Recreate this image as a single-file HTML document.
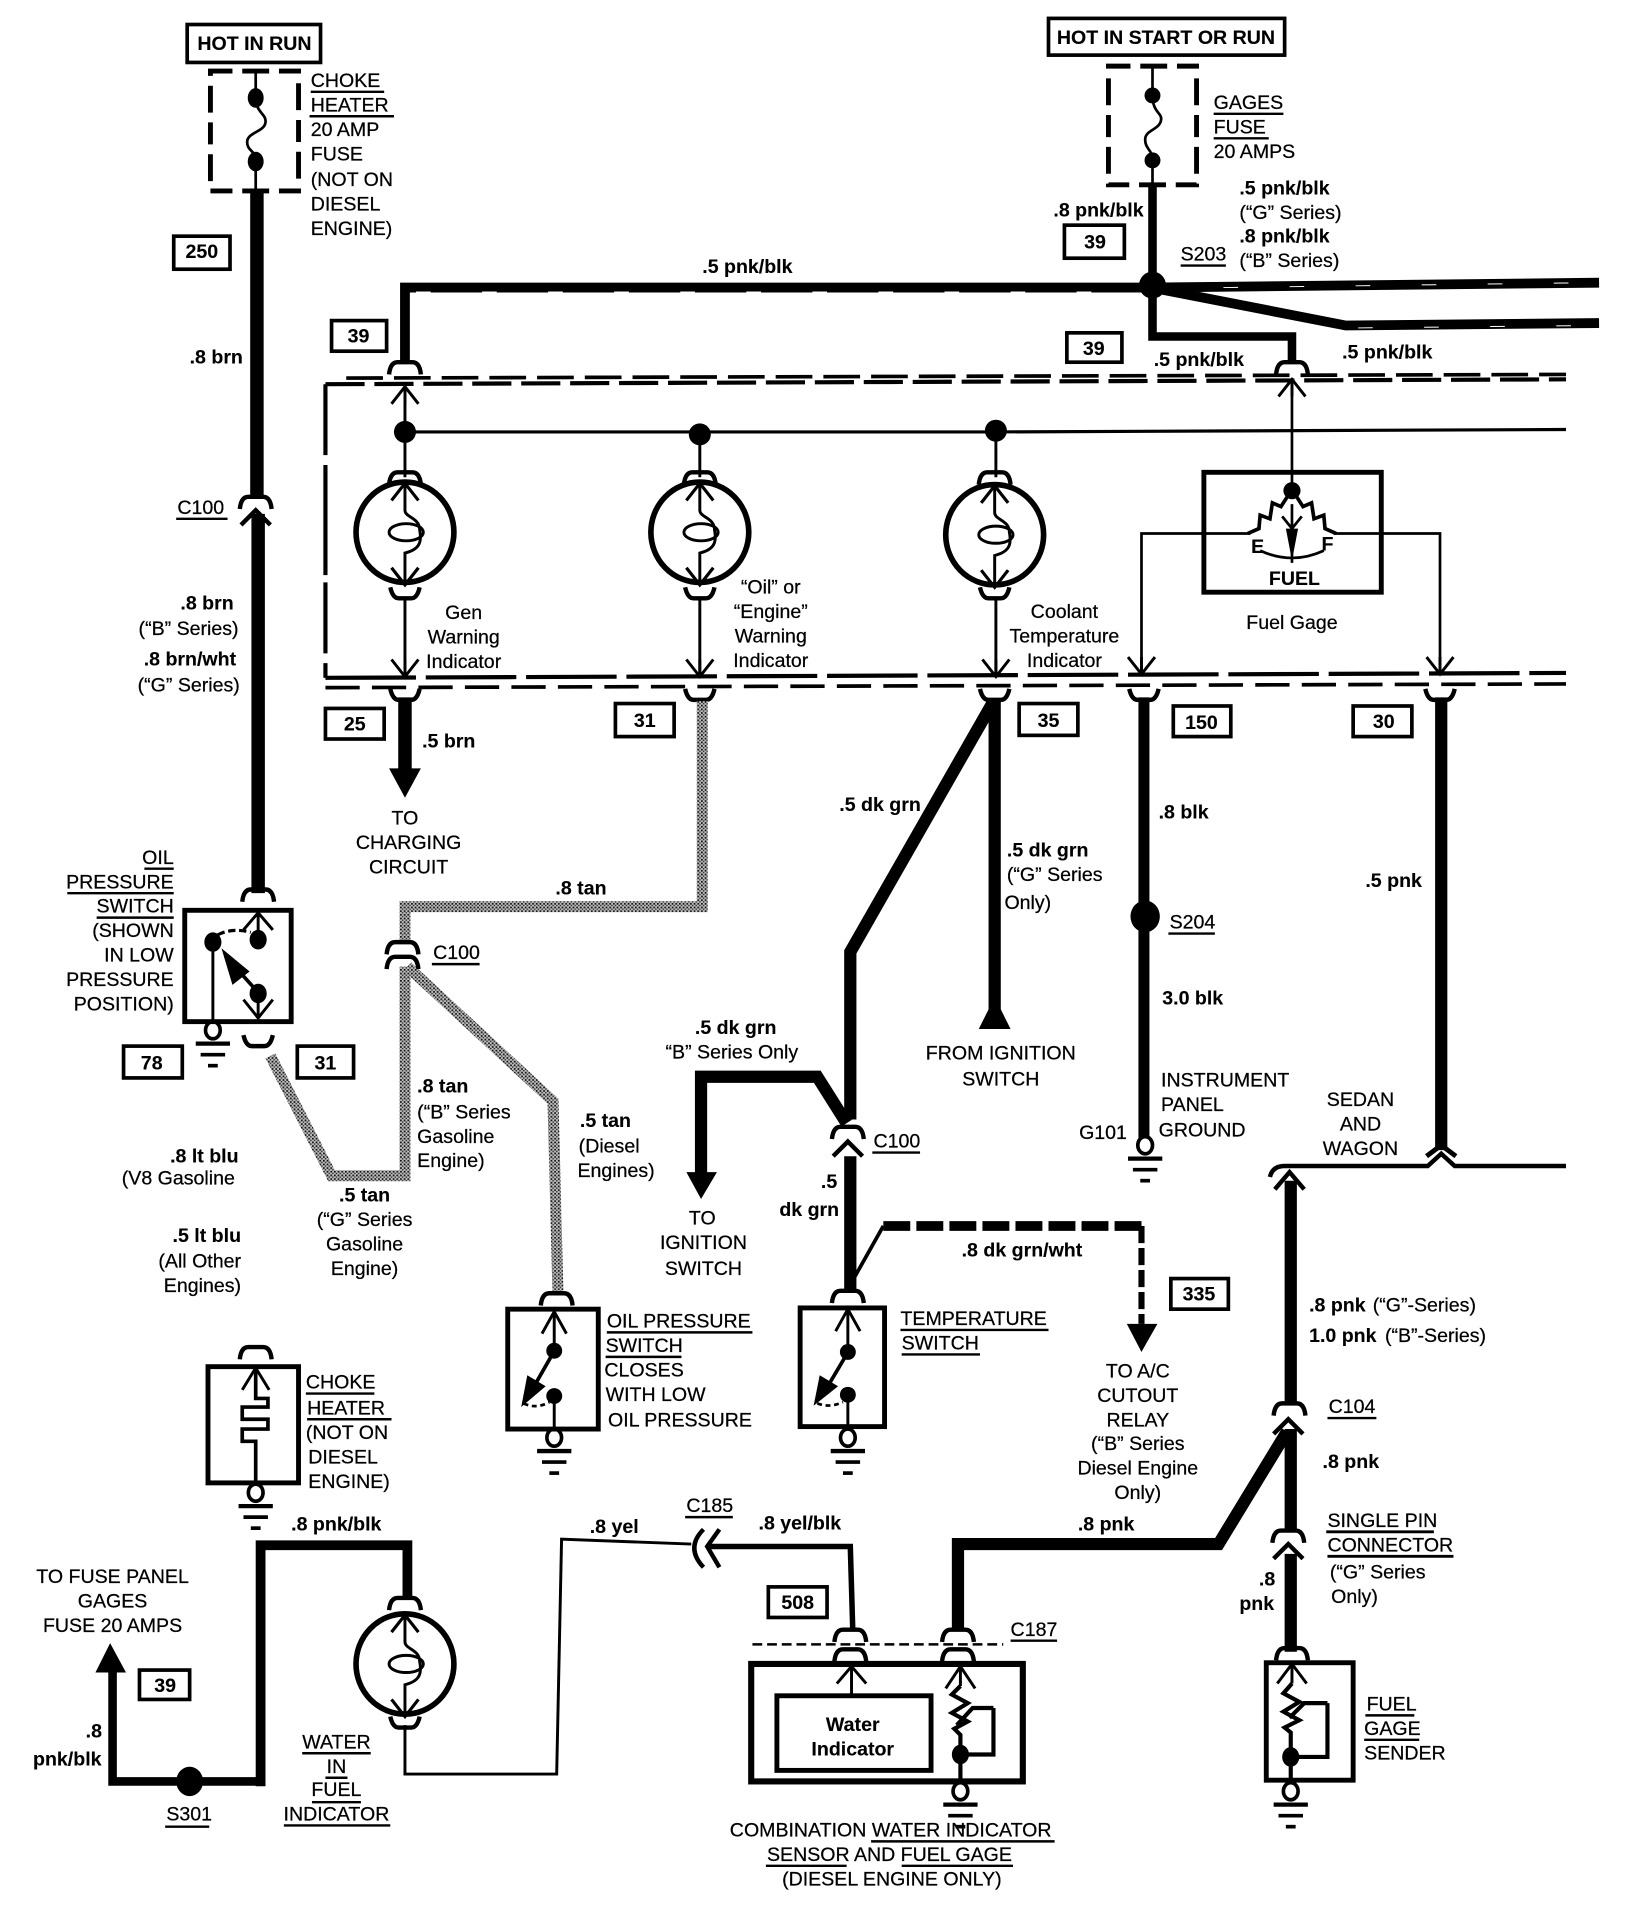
<!DOCTYPE html>
<html><head><meta charset="utf-8"><title>Gages wiring diagram</title>
<style>
html,body{margin:0;padding:0;background:#fff}
svg{display:block}
text{font-family:"Liberation Sans",sans-serif;font-size:16px;fill:#000;stroke:#000;stroke-width:.2}
.b{font-weight:bold;stroke-width:.1}
.m{text-anchor:middle}
.e{text-anchor:end}
.w{fill:none;stroke:#000;stroke-linejoin:miter}
</style></head><body>
<svg width="1648" height="1918" viewBox="0 0 1347 1567.6" xmlns="http://www.w3.org/2000/svg">
<defs>
<pattern id="tan" width="3" height="3" patternUnits="userSpaceOnUse"><rect width="3" height="3" fill="#bbb"/><rect width="1.4" height="1.4" fill="#111"/><rect x="1.5" y="1.5" width="1.2" height="1.2" fill="#333"/></pattern>
<path id="a" d="M-13 11Q-12 1-6 1H6Q12 1 13 11" fill="none" stroke="#000" stroke-width="3.6"/>
<path id="u" d="M-12 0Q-10 9-5 9H5Q10 9 12 0" fill="none" stroke="#000" stroke-width="3.6"/>
<path id="cu" d="M-11 14L0 0L11 14M0 0V14" fill="none" stroke="#000" stroke-width="2.4"/>
<path id="cd" d="M-11 -14L0 0L11 -14M0 0V-14" fill="none" stroke="#000" stroke-width="2.4"/>
<g id="g" fill="none" stroke="#000"><ellipse cx="0" cy="0" rx="6" ry="7" stroke-width="3"/><path d="M-14 11H14" stroke-width="3.5"/><path d="M-10 20H10" stroke-width="3"/><path d="M-4 29H4" stroke-width="3"/></g>
<g id="gauge" fill="none" stroke="#000">
<ellipse cx="0" cy="0" rx="40" ry="41" stroke-width="4.6"/>
<path d="M-11 -26L0 -40L11 -26M-11 29L0 43L11 29" stroke-width="2.6"/>
<path d="M0 -40V-18C0 -12 12 -12 12 -2C14 8 12 14 0 17V43" stroke-width="2.4"/>
<ellipse cx="1" cy="0" rx="14" ry="7" stroke-width="2.4"/>
</g>
</defs>
<rect width="1347" height="1568" fill="#fff"/>

<!-- hot in run + choke fuse -->
<rect class="w" x="153" y="20" width="109" height="31" stroke-width="3"/>
<text class="b m" x="208" y="41">HOT IN RUN</text>
<rect class="w" x="172" y="58" width="72" height="98" stroke-width="4" stroke-dasharray="18 8 22 8"/>
<path class="w" stroke-width="2.2" d="M209 58V80M209 80C209 92 218 93 217 100C216 108 202 108 202 116C202 124 209 122 209 132V156"/>
<ellipse cx="209" cy="80" rx="6.5" ry="8"/><ellipse cx="209" cy="132" rx="6.5" ry="8"/>
<path class="w" stroke-width="11" d="M210 156V405M211 420V730"/>
<use href="#a" x="209" y="405"/><path class="w" stroke-width="3.6" d="M197 429L209 417L221 429"/>
<g>
<text x="254" y="71">CHOKE</text><text x="254" y="91">HEATER</text><text x="254" y="111">20 AMP</text><text x="254" y="131">FUSE</text><text x="254" y="152">(NOT ON</text><text x="254" y="172">DIESEL</text><text x="254" y="192">ENGINE)</text>
<path d="M254 75H314M253 95H322" stroke="#000" stroke-width="2"/>
</g>
<rect class="w" x="142" y="193" width="46" height="27" stroke-width="3"/><text class="b m" x="165" y="211">250</text>
<text class="b" x="155" y="297">.8 brn</text>
<text x="145" y="420">C100</text><path d="M144 424H186" stroke="#000" stroke-width="2"/>
<text class="b e" x="191" y="498">.8 brn</text><text class="e" x="195" y="519">(“B” Series)</text>
<text class="b e" x="193" y="544">.8 brn/wht</text><text class="e" x="196" y="565">(“G” Series)</text>

<!-- pnk/blk bus -->
<path class="w" stroke-width="8" d="M331 235H941L1307 231M331 231V295"/>
<path class="w" stroke-width="8" d="M941 235L1100 266L1307 264"/>
<path class="w" stroke-width="7" d="M942 152V275H1056V295"/>
<path d="M1000 235L1300 231M1110 268L1300 266M340 238.6L930 238.6" fill="none" stroke="#fff" stroke-width=".8" stroke-dasharray="12 42"/>
<circle cx="942" cy="233" r="11"/>
<rect class="w" x="271" y="262" width="45" height="25" stroke-width="3"/><text class="b m" x="293" y="280">39</text>
<text class="b" x="574" y="223">.5 pnk/blk</text>

<!-- hot in start -->
<rect class="w" x="857" y="15" width="193" height="30" stroke-width="3"/>
<text class="b m" x="953" y="36">HOT IN START OR RUN</text>
<rect class="w" x="906" y="54" width="72" height="97" stroke-width="4" stroke-dasharray="18 8 22 8"/>
<path class="w" stroke-width="2.2" d="M942 54V78M942 78C942 92 950 92 949 98C948 106 936 106 936 114C936 122 942 122 942 131V152"/>
<circle cx="942" cy="78" r="6.5"/><circle cx="942" cy="131" r="6.5"/>
<text x="992" y="89">GAGES</text><text x="992" y="109">FUSE</text><text x="992" y="129">20 AMPS</text>
<path d="M992 93H1049M992 113H1037" stroke="#000" stroke-width="2"/>
<text class="b" x="1013" y="159">.5 pnk/blk</text><text x="1013" y="179">(“G” Series)</text><text class="b" x="1013" y="198">.8 pnk/blk</text><text x="1013" y="218">(“B” Series)</text>
<text class="b" x="861" y="177">.8 pnk/blk</text>
<rect class="w" x="870" y="184" width="49" height="27" stroke-width="3"/><text class="b m" x="895" y="203">39</text>
<text x="965" y="213">S203</text><path d="M965 217H1002" stroke="#000" stroke-width="2"/>
<rect class="w" x="872" y="272" width="45" height="24" stroke-width="3"/><text class="b m" x="894" y="290">39</text>
<text class="b" x="943" y="299">.5 pnk/blk</text><text class="b" x="1097" y="293">.5 pnk/blk</text>

<!-- instrument cluster dashed outline -->
<path class="w" stroke-width="3" stroke-dasharray="30 9" d="M283 309L1280 306"/>
<path class="w" stroke-width="3.4" stroke-dasharray="32 8" d="M266 314L1280 310"/>
<path class="w" stroke-width="3.4" stroke-dasharray="58 8 90 6" d="M266 314V554"/>
<path class="w" stroke-width="3.4" stroke-dasharray="74 8" d="M266 554L1280 550"/>
<path class="w" stroke-width="3" stroke-dasharray="28 10" d="M266 562L1280 559"/>
<path class="w" stroke-width="2.6" d="M331 353L814 353L1280 351"/>
<circle cx="331" cy="353" r="9"/><circle cx="572" cy="355" r="9"/><circle cx="814" cy="352" r="9"/>
<path class="w" stroke-width="2.4" d="M331 316V390M572 355V390M814 352V390"/>
<use href="#a" x="331" y="295"/><use href="#cu" x="331" y="316"/>
<use href="#a" x="1056" y="295"/><use href="#cu" x="1056" y="310"/>

<use href="#gauge" x="331" y="435"/><use href="#gauge" x="572" y="435"/><use href="#gauge" x="813" y="437"/>
<use href="#a" x="331" y="385"/><use href="#a" x="572" y="385"/><use href="#a" x="813" y="385"/>
<use href="#u" x="331" y="480"/><use href="#u" x="572" y="480"/><use href="#u" x="813" y="480"/>
<path class="w" stroke-width="2.4" d="M331 490V553M572 490V553M814 490V553"/>
<use href="#cd" x="331" y="553"/><use href="#cd" x="572" y="553"/><use href="#cd" x="814" y="553"/>
<text class="m" x="379" y="506">Gen</text><text class="m" x="379" y="526">Warning</text><text class="m" x="379" y="546">Indicator</text>
<text class="m" x="630" y="485">“Oil” or</text><text class="m" x="630" y="505">“Engine”</text><text class="m" x="630" y="525">Warning</text><text class="m" x="630" y="545">Indicator</text>
<text class="m" x="870" y="505">Coolant</text><text class="m" x="870" y="525">Temperature</text><text class="m" x="870" y="545">Indicator</text>

<!-- fuel gage -->
<rect class="w" x="984" y="386" width="145" height="98" stroke-width="4"/>
<path class="w" stroke-width="2.2" d="M1056 312V396M1022 436H933V550M1090 436H1177V550"/>
<path class="w" stroke-width="3" d="M1056 400L1047 414L1040 411L1038 424L1030 421L1029 432L1020 436M1056 400L1065 414L1072 411L1074 424L1082 421L1083 432L1092 436"/>
<circle cx="1056" cy="401" r="7"/>
<path class="w" stroke-width="2.2" d="M1056 412V460M1048 422L1056 432L1064 422M1030 450Q1056 462 1082 450"/>
<path d="M1051 432L1061 432L1056 458Z"/>
<text class="b m" x="1028" y="452">E</text><text class="b m" x="1085" y="450">F</text><text class="b m" x="1058" y="478">FUEL</text>
<text class="m" x="1056" y="514">Fuel Gage</text>
<use href="#cd" x="933" y="551"/><use href="#cd" x="1177" y="551"/>

<!-- U connectors bottom -->
<use href="#u" x="331" y="563"/><use href="#u" x="572" y="563"/><use href="#u" x="813" y="563"/><use href="#u" x="935" y="563"/><use href="#u" x="1177" y="563"/>

<!-- .5 brn -->
<path class="w" stroke-width="11" d="M331 570V630"/><path d="M318 628H344L331 652Z"/>
<rect class="w" x="266" y="579" width="48" height="25" stroke-width="3"/><text class="b m" x="290" y="597">25</text>
<text class="b" x="345" y="611">.5 brn</text>
<text class="m" x="331" y="674">TO</text><text class="m" x="334" y="694">CHARGING</text><text class="m" x="334" y="714">CIRCUIT</text>

<!-- tan wires -->
<g fill="none" stroke="url(#tan)" stroke-width="9">
<path d="M574 573V741H331V770"/>
<path d="M331 790V961H271L221 863"/>
<path d="M333 790L452 900L456 1055"/>
</g>
<rect class="w" x="503" y="575" width="48" height="27" stroke-width="3"/><text class="b m" x="527" y="594">31</text>
<text class="b" x="454" y="731">.8 tan</text>
<use href="#a" x="329" y="769"/><use href="#a" x="329" y="781"/>
<text x="354" y="784">C100</text><path d="M353 788H392" stroke="#000" stroke-width="2"/>
<text class="b" x="341" y="893">.8 tan</text><text x="341" y="914">(“B” Series</text><text x="341" y="934">Gasoline</text><text x="341" y="954">Engine)</text>
<text class="b m" x="298" y="982">.5 tan</text><text class="m" x="298" y="1002">(“G” Series</text><text class="m" x="298" y="1022">Gasoline</text><text class="m" x="298" y="1042">Engine)</text>
<text class="b" x="474" y="921">.5 tan</text><text x="473" y="942">(Diesel</text><text x="472" y="962">Engines)</text>

<!-- oil pressure switch top left -->
<rect class="w" x="151" y="744" width="87" height="91" stroke-width="4"/>
<use href="#a" x="211" y="726"/>
<path class="w" stroke-width="2.4" d="M199 760L211 746L223 760M211 746V768M211 812V830M199 817L211 832L223 817M174 771V835"/>
<ellipse cx="174" cy="770" rx="7" ry="8"/><ellipse cx="211" cy="768" rx="7" ry="8"/><ellipse cx="211" cy="812" rx="7" ry="8"/>
<path class="w" stroke-width="2.6" stroke-dasharray="6 3" d="M178 764Q190 758 205 762"/>
<path class="w" stroke-width="3" d="M209 809L192 790"/><path d="M181 775L204 794L190 805Z"/>
<use href="#g" x="174" y="842"/>
<use href="#u" x="211" y="846"/>
<text class="e" x="142" y="706">OIL</text><text class="e" x="142" y="726">PRESSURE</text><text class="e" x="142" y="746">SWITCH</text><text class="e" x="142" y="766">(SHOWN</text><text class="e" x="142" y="786">IN LOW</text><text class="e" x="142" y="806">PRESSURE</text><text class="e" x="142" y="826">POSITION)</text>
<path d="M118 710H142M55 730H142M79 750H142" stroke="#000" stroke-width="2"/>
<rect class="w" x="101" y="855" width="48" height="26" stroke-width="3"/><text class="b m" x="124" y="874">78</text>
<rect class="w" x="243" y="855" width="46" height="26" stroke-width="3"/><text class="b m" x="266" y="874">31</text>
<text class="b e" x="195" y="950">.8 lt blu</text><text class="e" x="192" y="968">(V8 Gasoline</text>
<text class="b e" x="197" y="1015">.5 lt blu</text><text class="e" x="197" y="1036">(All Other</text><text class="e" x="197" y="1056">Engines)</text>

<!-- dk grn -->
<path class="w" stroke-width="10" d="M813 572V825"/>
<path d="M813 815L826 841H800Z"/>
<path class="w" stroke-width="10" d="M811 575L695 778V915"/>
<path class="w" stroke-width="10" d="M573 960V880H668L692 918"/>
<path d="M561 958H586L573 980Z"/>
<path class="w" stroke-width="10" d="M695 945V1055"/>
<use href="#a" x="693" y="920"/><path class="w" stroke-width="3.6" d="M681 945L693 933L705 945"/>
<rect class="w" x="833" y="575" width="48" height="26" stroke-width="3"/><text class="b m" x="857" y="594">35</text>
<text class="b" x="686" y="663">.5 dk grn</text>
<text class="b" x="823" y="700">.5 dk grn</text><text x="823" y="720">(“G” Series</text><text x="821" y="743">Only)</text>
<text class="m" x="818" y="866">FROM IGNITION</text><text class="m" x="818" y="887">SWITCH</text>
<text class="b" x="568" y="845">.5 dk grn</text><text x="544" y="865">“B” Series Only</text>
<text class="m" x="574" y="1001">TO</text><text class="m" x="575" y="1021">IGNITION</text><text class="m" x="575" y="1042">SWITCH</text>
<text x="714" y="938">C100</text><path d="M713 942H752" stroke="#000" stroke-width="2"/>
<text class="b" x="671" y="971">.5</text><text class="b" x="637" y="994">dk grn</text>

<!-- dk grn/wht -->
<path class="w" stroke-width="3" d="M695 1050L722 1002"/>
<path class="w" stroke-width="8" stroke-dasharray="22 5" d="M722 1002H933"/>
<path class="w" stroke-width="5" stroke-dasharray="14 4" d="M933 1002V1082"/>
<path d="M921 1082H946L933 1105Z"/>
<rect class="w" x="957" y="1045" width="47" height="25" stroke-width="3"/><text class="b m" x="980" y="1063">335</text>
<text class="b" x="786" y="1027">.8 dk grn/wht</text>
<text class="m" x="930" y="1126">TO A/C</text><text class="m" x="930" y="1146">CUTOUT</text><text class="m" x="930" y="1166">RELAY</text><text class="m" x="930" y="1185">(“B” Series</text><text class="m" x="930" y="1205">Diesel Engine</text><text class="m" x="930" y="1225">Only)</text>

<!-- blk -->
<path class="w" stroke-width="9" d="M935 570V930"/>
<ellipse cx="936" cy="749" rx="12" ry="13"/>
<use href="#g" x="936" y="936"/>
<rect class="w" x="959" y="577" width="47" height="25" stroke-width="3"/><text class="b m" x="982" y="596">150</text>
<text class="b" x="947" y="669">.8 blk</text>
<text x="956" y="759">S204</text><path d="M955 763H993" stroke="#000" stroke-width="2"/>
<text class="b" x="950" y="821">3.0 blk</text>
<text x="949" y="888">INSTRUMENT</text><text x="949" y="908">PANEL</text><text x="947" y="929">GROUND</text>
<text x="882" y="931">G101</text>

<!-- pnk -->
<path class="w" stroke-width="10" d="M1178 570V940"/>
<path class="w" stroke-width="4" d="M1166 945L1178 936L1190 945"/>
<path class="w" stroke-width="3.6" d="M1038 962Q1040 953 1050 953H1167L1178 943L1189 953H1280"/>
<rect class="w" x="1106" y="577" width="48" height="25" stroke-width="3"/><text class="b m" x="1131" y="595">30</text>
<text class="b" x="1116" y="725">.5 pnk</text>
<text class="m" x="1112" y="904">SEDAN</text><text class="m" x="1112" y="924">AND</text><text class="m" x="1112" y="944">WAGON</text>
<path class="w" stroke-width="10" d="M1055 965V1148M1055 1168V1250M1055 1270V1350"/>
<path class="w" stroke-width="3.6" d="M1042 972L1054 958L1066 972"/>
<use href="#a" x="1054" y="1146"/><path class="w" stroke-width="3.6" d="M1041 1172L1053 1160L1065 1172"/>
<text class="b" x="1070" y="1072">.8 pnk</text><text x="1122" y="1072">(“G”-Series)</text>
<text class="b" x="1070" y="1097">1.0 pnk</text><text x="1132" y="1097">(“B”-Series)</text>
<text x="1086" y="1155">C104</text><path d="M1085 1159H1125" stroke="#000" stroke-width="2"/>
<text class="b" x="1081" y="1200">.8 pnk</text>
<path class="w" stroke-width="10" d="M1052 1170L996 1262H783V1332"/>
<text class="b" x="881" y="1251">.8 pnk</text>
<use href="#a" x="1053" y="1250"/><path class="w" stroke-width="3.6" d="M1041 1274L1053 1262L1065 1274"/>
<text x="1085" y="1248">SINGLE PIN</text><text x="1085" y="1268">CONNECTOR</text><text x="1087" y="1290">(“G” Series</text><text x="1088" y="1310">Only)</text>
<path d="M1084 1252H1172M1085 1272H1188" stroke="#000" stroke-width="2.4"/>
<text class="b" x="1029" y="1296">.8</text><text class="b" x="1013" y="1316">pnk</text>

<!-- fuel gage sender -->
<use href="#a" x="1056" y="1346"/>
<rect class="w" x="1035" y="1359" width="71" height="96" stroke-width="4"/>
<path class="w" stroke-width="2.4" d="M1044 1376L1056 1360L1068 1376M1056 1360V1376"/>
<path class="w" stroke-width="3.4" d="M1056 1376L1049 1384L1062 1391L1049 1399L1062 1406L1050 1412L1055 1416V1455M1085 1392H1066L1054 1404M1085 1392V1436H1055"/>
<ellipse cx="1055" cy="1436" rx="7" ry="8"/>
<use href="#g" x="1055" y="1464"/>
<text x="1117" y="1398">FUEL</text><text x="1115" y="1418">GAGE</text><text x="1115" y="1438">SENDER</text>
<path d="M1116 1402H1156M1115 1422H1160" stroke="#000" stroke-width="2"/>

<!-- combination sensor -->
<path class="w" stroke-width="2" stroke-dasharray="8 4" d="M615 1344H820"/>
<use href="#a" x="695" y="1331"/><use href="#a" x="783" y="1331"/>
<use href="#a" x="695" y="1347"/><use href="#a" x="783" y="1347"/>
<rect class="w" x="614" y="1360" width="222" height="96" stroke-width="5"/>
<rect class="w" x="635" y="1386" width="126" height="61" stroke-width="4"/>
<path class="w" stroke-width="2.4" d="M684 1376L696 1362L708 1376M696 1362V1386"/>
<text class="b m" x="697" y="1415">Water</text><text class="b m" x="697" y="1435">Indicator</text>
<path class="w" stroke-width="2.4" d="M773 1380L785 1362L797 1380M785 1362V1378"/>
<path class="w" stroke-width="3.4" d="M785 1378L778 1385L791 1392L778 1400L791 1407L780 1413L785 1418V1456M812 1396H795L782 1410M812 1396V1434H785"/>
<ellipse cx="785" cy="1434" rx="7" ry="8"/>
<use href="#g" x="785" y="1464"/>
<text x="826" y="1337">C187</text><path d="M826 1341H864" stroke="#000" stroke-width="2"/>
<text class="m" x="728" y="1501">COMBINATION WATER INDICATOR</text>
<text class="m" x="727" y="1521">SENSOR AND FUEL GAGE</text>
<text class="m" x="729" y="1541">(DIESEL ENGINE ONLY)</text>
<path d="M712 1505H862M626 1525H692M737 1525H828" stroke="#000" stroke-width="2"/>

<!-- yel -->
<path class="w" stroke-width="2.4" d="M331 1410V1450H455L459 1258L565 1262"/>
<path class="w" stroke-width="3.6" d="M575 1250Q560 1265 575 1281M588 1250L578 1264L588 1281"/>
<path class="w" stroke-width="4.5" d="M580 1264H695L697 1332"/>
<text x="561" y="1236">C185</text><path d="M560 1240H599" stroke="#000" stroke-width="2"/>
<text class="b" x="482" y="1253">.8 yel</text><text class="b" x="620" y="1250">.8 yel/blk</text>
<rect class="w" x="628" y="1297" width="48" height="25" stroke-width="3"/><text class="b m" x="652" y="1315">508</text>

<!-- oil pressure switch lower -->
<use href="#a" x="455" y="1056"/>
<rect class="w" x="415" y="1070" width="74" height="98" stroke-width="4"/>
<path class="w" stroke-width="2.4" d="M443 1090L453 1072L463 1090M453 1072V1104M453 1141V1168"/>
<circle cx="453" cy="1104" r="6.5"/><circle cx="453" cy="1141" r="6.5"/>
<path class="w" stroke-width="3" d="M452 1106L436 1134"/><path d="M426 1150L431 1124L446 1133Z"/>
<path class="w" stroke-width="2.2" stroke-dasharray="4 3" d="M428 1147Q438 1152 449 1146"/>
<use href="#g" x="453" y="1175"/>
<text x="496" y="1085">OIL PRESSURE</text><text x="495" y="1105">SWITCH</text><text x="494" y="1125">CLOSES</text><text x="495" y="1145">WITH LOW</text><text x="497" y="1166">OIL PRESSURE</text>
<path d="M496 1089H615M495 1109H557" stroke="#000" stroke-width="2"/>

<!-- temperature switch -->
<use href="#a" x="693" y="1054"/>
<rect class="w" x="654" y="1069" width="69" height="97" stroke-width="4"/>
<path class="w" stroke-width="2.4" d="M683 1088L693 1070L703 1088M693 1070V1105M693 1140V1166"/>
<circle cx="693" cy="1105" r="6.5"/><circle cx="693" cy="1140" r="6.5"/>
<path class="w" stroke-width="3" d="M692 1107L676 1134"/><path d="M665 1149L670 1124L685 1133Z"/>
<path class="w" stroke-width="2.2" stroke-dasharray="4 3" d="M668 1147Q678 1151 689 1146"/>
<use href="#g" x="693" y="1175"/>
<text x="736" y="1083">TEMPERATURE</text><text x="737" y="1103">SWITCH</text>
<path d="M736 1087H857M737 1107H801" stroke="#000" stroke-width="2"/>

<!-- choke heater -->
<use href="#a" x="209" y="1100"/>
<rect class="w" x="170" y="1117" width="74" height="95" stroke-width="4"/>
<path class="w" stroke-width="2.4" d="M198 1136L209 1118L220 1136"/>
<path class="w" stroke-width="3" d="M209 1118V1143H219V1150H198V1160H219V1168H198V1178H209V1212"/>
<use href="#g" x="209" y="1220"/>
<text x="250" y="1135">CHOKE</text><text x="251" y="1156">HEATER</text><text x="250" y="1176">(NOT ON</text><text x="252" y="1196">DIESEL</text><text x="252" y="1216">ENGINE)</text>
<path d="M250 1139H306M251 1160H320" stroke="#000" stroke-width="2"/>

<!-- water in fuel -->
<path class="w" stroke-width="7" d="M92 1365V1456H213"/>
<path class="w" stroke-width="8" d="M213 1460V1263H333V1305"/>
<path d="M78 1367H103L90 1343Z"/>
<ellipse cx="155" cy="1456" rx="11" ry="12"/>
<use href="#gauge" x="331" y="1360"/>
<use href="#a" x="331" y="1305"/><use href="#u" x="331" y="1403"/>
<text class="m" x="92" y="1294">TO FUSE PANEL</text><text class="m" x="92" y="1314">GAGES</text><text class="m" x="92" y="1334">FUSE 20 AMPS</text>
<rect class="w" x="114" y="1365" width="41" height="24" stroke-width="3"/><text class="b m" x="135" y="1383">39</text>
<text class="b" x="70" y="1420">.8</text><text class="b" x="27" y="1443">pnk/blk</text>
<text x="136" y="1488">S301</text><path d="M135 1493H171" stroke="#000" stroke-width="2"/>
<text class="b" x="238" y="1251">.8 pnk/blk</text>
<text class="m" x="275" y="1429">WATER</text><text class="m" x="275" y="1449">IN</text><text class="m" x="275" y="1468">FUEL</text><text class="m" x="275" y="1488">INDICATOR</text>
<path d="M247 1433H303M266 1453H284M255 1473H295M232 1492H319" stroke="#000" stroke-width="2"/>
</svg>
</body></html>
